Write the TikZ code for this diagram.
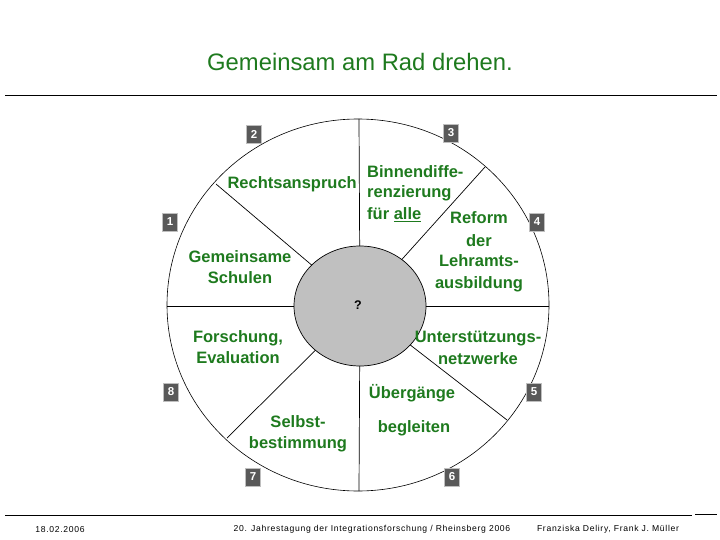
\documentclass[tikz,border=0pt]{standalone}
\usepackage{fontspec}
\setmainfont{Liberation Sans}
\definecolor{tgreen}{HTML}{1E7A1E}
\definecolor{numgray}{HTML}{595959}
\definecolor{hubgray}{HTML}{C0C0C0}
\begin{document}
\begin{tikzpicture}[x=1pt,y=-1pt,
  lbl/.style={text=tgreen, font=\fontsize{16.5}{20}\selectfont\bfseries, inner sep=0pt, anchor=base},
  numbox/.style={fill=numgray, draw=gray!50, line width=0.5pt, text=white, font=\fontsize{11.5}{11.5}\selectfont\bfseries, minimum width=15pt, minimum height=18pt, inner sep=0pt},
  foot/.style={font=\fontsize{8.6}{10}\selectfont\addfontfeature{LetterSpace=8}, inner sep=0pt, anchor=base},
  spoke/.style={line width=0.7pt}]
\useasboundingbox (0,0) rectangle (720,540);
% title and rules
\node[text=tgreen, font=\fontsize{23.8}{26}\selectfont, inner sep=0pt, anchor=base] (title) at (360,71) {Gemeinsam am Rad drehen.};
\draw[line width=0.9pt] (5,95) -- (717,95);
\draw[line width=0.9pt] (5,515) -- (692,515);
\draw[line width=0.9pt] (695,514) -- (717,514);
% wheel
\coordinate (c) at (360,306);
\draw[line width=0.6pt] (358,305) ellipse [x radius=191, y radius=186];
\draw[spoke] (359,119) -- (c);
\draw[spoke] (359,491) -- (c);
\draw[spoke] (167,306) -- (c);
\draw[spoke] (549,306) -- (c);
\draw[spoke] (216,184) -- (c);
\draw[spoke] (485,167) -- (c);
\draw[spoke] (507,420) -- (c);
\draw[spoke] (227,438) -- (c);
\draw[fill=hubgray, line width=0.7pt] (c) ellipse [x radius=66, y radius=60];
\node[font=\fontsize{12.5}{12.5}\selectfont\bfseries, inner sep=0pt] (q) at (358,305) {?};
% labels
\node[lbl, anchor=base east] (recht) at (357,189) {Rechtsanspruch};
\node[lbl, anchor=base west] (binnenA) at (367,178) {Binnendiffe-};
\node[lbl, anchor=base west] (binnenB) at (367,198) {renzierung};
\node[lbl, anchor=base west] (binnenC) at (367,220) {für \underline{alle}};
\node[lbl] (reformA) at (479,223) {Reform};
\node[lbl] (reformB) at (479,246) {der};
\node[lbl] (reformC) at (479,266) {Lehramts-};
\node[lbl] (reformD) at (479,288) {ausbildung};
\node[lbl] (gemA) at (240,262) {Gemeinsame};
\node[lbl] (gemB) at (240,283) {Schulen};
\node[lbl] (forschA) at (238,342) {Forschung,};
\node[lbl] (forschB) at (238,363) {Evaluation};
\node[lbl] (unterA) at (478,342) {Unterstützungs-};
\node[lbl] (unterB) at (478,364) {netzwerke};
\node[lbl] (ueber) at (412,398) {Übergänge};
\node[lbl] (begl) at (414,432) {begleiten};
\node[lbl] (selbstA) at (298,427) {Selbst-};
\node[lbl] (selbstB) at (298,448) {bestimmung};
% number boxes
\node[numbox] (n1) at (170,222) {1};
\node[numbox] (n2) at (254,134) {2};
\node[numbox] (n3) at (451,133) {3};
\node[numbox] (n4) at (537,222) {4};
\node[numbox] (n5) at (534,392) {5};
\node[numbox] (n6) at (452,477) {6};
\node[numbox] (n7) at (253,477) {7};
\node[numbox] (n8) at (171,392) {8};
% footer
\node[foot] (date) at (60,532) {18.02.2006};
\node[foot] (conf) at (372,531) {20. Jahrestagung der Integrationsforschung / Rheinsberg 2006};
\node[foot] (auth) at (608,531) {Franziska Deliry, Frank J. Müller};
\end{tikzpicture}
\end{document}
